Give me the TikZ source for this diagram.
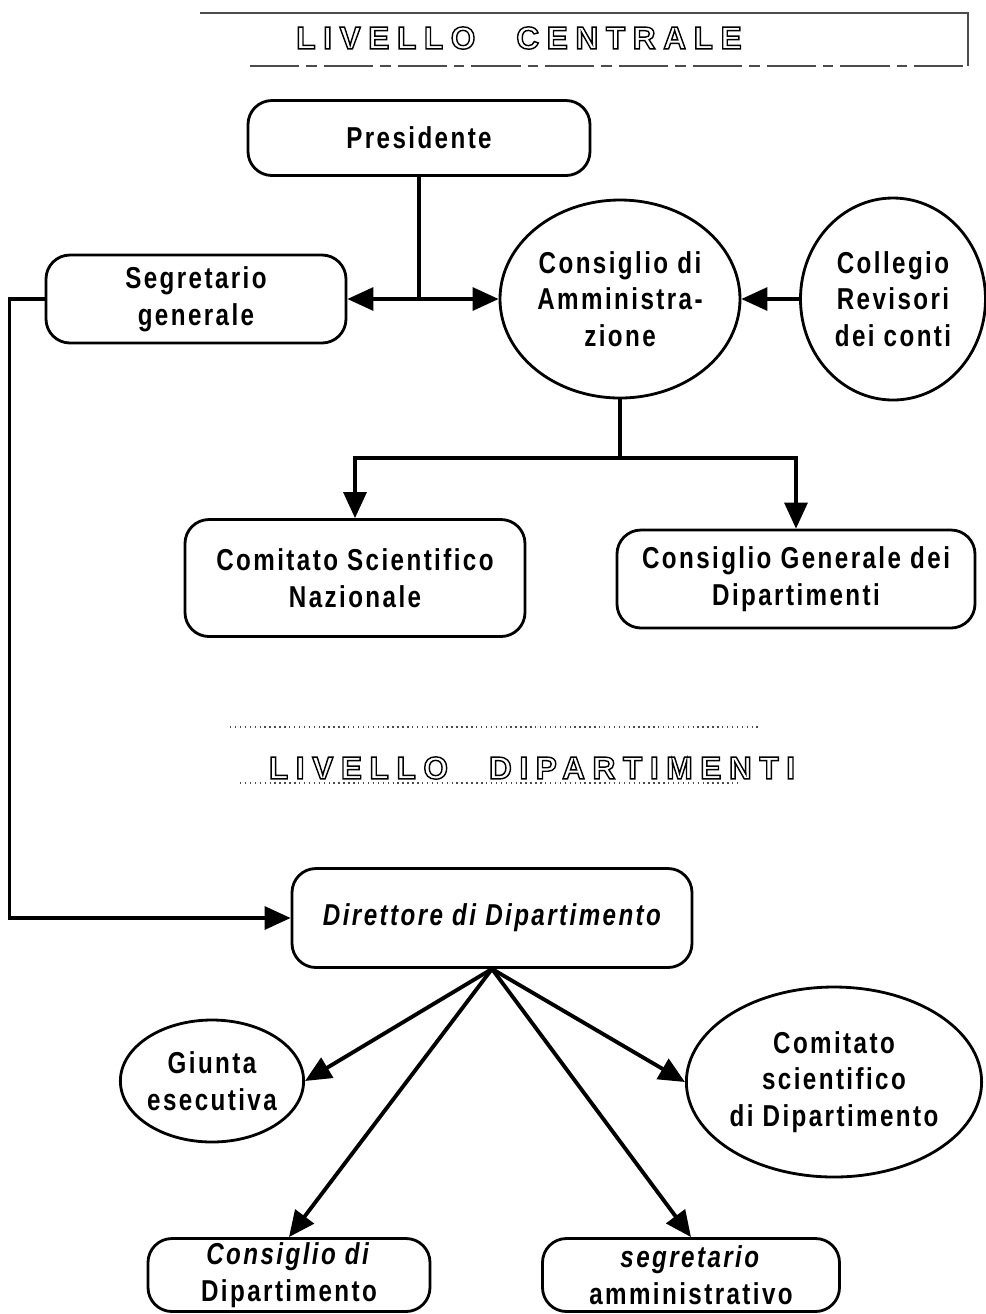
\documentclass[tikz,border=0pt]{standalone}
\usepackage{fontspec}
\usetikzlibrary{arrows.meta,shapes.geometric}
\newfontfamily\boxfont{Liberation Sans}[FakeStretch=0.8,LetterSpace=8]
\newfontfamily\bandfont{Liberation Sans}[LetterSpace=24,WordSpace=2.5]
\newcommand{\hollowtext}[1]{\special{pdf:literal direct 1 Tr 0.4 w}#1\special{pdf:literal direct 0 Tr}}
\tikzstyle{office}=[draw, line width=0.8pt, rounded corners=2.4mm, align=center, inner sep=0pt, font=\boxfont\bfseries\fontsize{8.6}{10.4}\selectfont]
\tikzstyle{board}=[draw, ellipse, line width=0.8pt, align=center, inner sep=0pt, font=\boxfont\bfseries\fontsize{8.6}{10.4}\selectfont]
\tikzstyle{band}=[inner sep=0pt, font=\bandfont\bfseries\fontsize{9}{11}\selectfont]
\tikzstyle{bandline}=[line width=0.4pt, black!70]
\tikzstyle{link}=[line width=0.9pt]
\tikzstyle{flow}=[line width=0.9pt, -{Triangle[length=2.6mm,width=2.3mm]}]
\tikzstyle{fanflow}=[line width=1.1pt, -{Triangle[length=2.6mm,width=2.3mm]}]

\begin{document}
\begin{tikzpicture}[x=0.1mm,y=-0.1mm]
	\useasboundingbox (0,0) rectangle (985,1314);
	% central level
	\node[band] (centrale) at (519,38) {\hollowtext{LIVELLO CENTRALE}};
	\draw[bandline] (200,13) -- (968,13) -- (968,66);
	\draw[bandline, dash pattern=on 14pt off 2pt on 3pt off 2pt] (250,66) -- (968,66);
	\node[office, minimum width=34.2mm, minimum height=7.5mm] (pres) at (419,138) {Presidente};
	\node[office, minimum width=30mm, minimum height=8.8mm] (segr) at (196,299) {Segretario\\generale};
	\node[board, minimum width=24mm, minimum height=19.8mm] (cda) at (620,299) {Consiglio di\\Amministra-\\zione};
	\node[board, minimum width=18.5mm, minimum height=20.2mm] (coll) at (893,299) {Collegio\\Revisori\\dei conti};
	\node[office, minimum width=34mm, minimum height=11.7mm] (csn) at (355,578) {Comitato Scientifico\\Nazionale};
	\node[office, minimum width=35.8mm, minimum height=9.8mm] (cgd) at (796,579) {Consiglio Generale dei\\Dipartimenti};
	\coordinate (pj) at (419,299);
	\draw[link] (pres.south) -- (pj);
	\draw[flow] (pj) -- (segr.east);
	\draw[flow] (pj) -- (cda.west);
	\draw[flow] (coll.west) -- (cda.east);
	\coordinate (split) at (620,458);
	\draw[link] (cda.south) -- (split);
	\draw[flow] (split) -| (csn.north);
	\draw[flow] (split) -| (cgd.north);
	% department level
	\node[band] (dipart) at (532,768) {\hollowtext{LIVELLO DIPARTIMENTI}};
	\draw[bandline, densely dotted] (230,727) -- (760,727);
	\draw[bandline, densely dotted] (240,783) -- (740,783);
	\node[office, minimum width=40mm, minimum height=9.9mm] (dir) at (492,918) {\itshape Direttore di Dipartimento};
	\node[board, minimum width=18mm, minimum height=12.2mm] (giunta) at (212,1081) {Giunta\\esecutiva};
	\node[board, minimum width=27.8mm, minimum height=19mm] (csd) at (834,1082) {Comitato\\scientifico\\di Dipartimento};
	\node[office, minimum width=28.2mm, minimum height=7.3mm] (cdd) at (289,1275) {\textit{Consiglio di}\\Dipartimento};
	\node[office, minimum width=29.7mm, minimum height=7.3mm] (sam) at (691,1275) {\textit{segretario}\\amministrativo};
	\draw[flow] (segr.west) -- ++(-35,0) |- (dir.west);
	\draw[fanflow] (dir.south) -- (giunta.east);
	\draw[fanflow] (dir.south) -- (cdd.north);
	\draw[fanflow] (dir.south) -- (sam.north);
	\draw[fanflow] (dir.south) -- (csd.west);
\end{tikzpicture}
\end{document}
